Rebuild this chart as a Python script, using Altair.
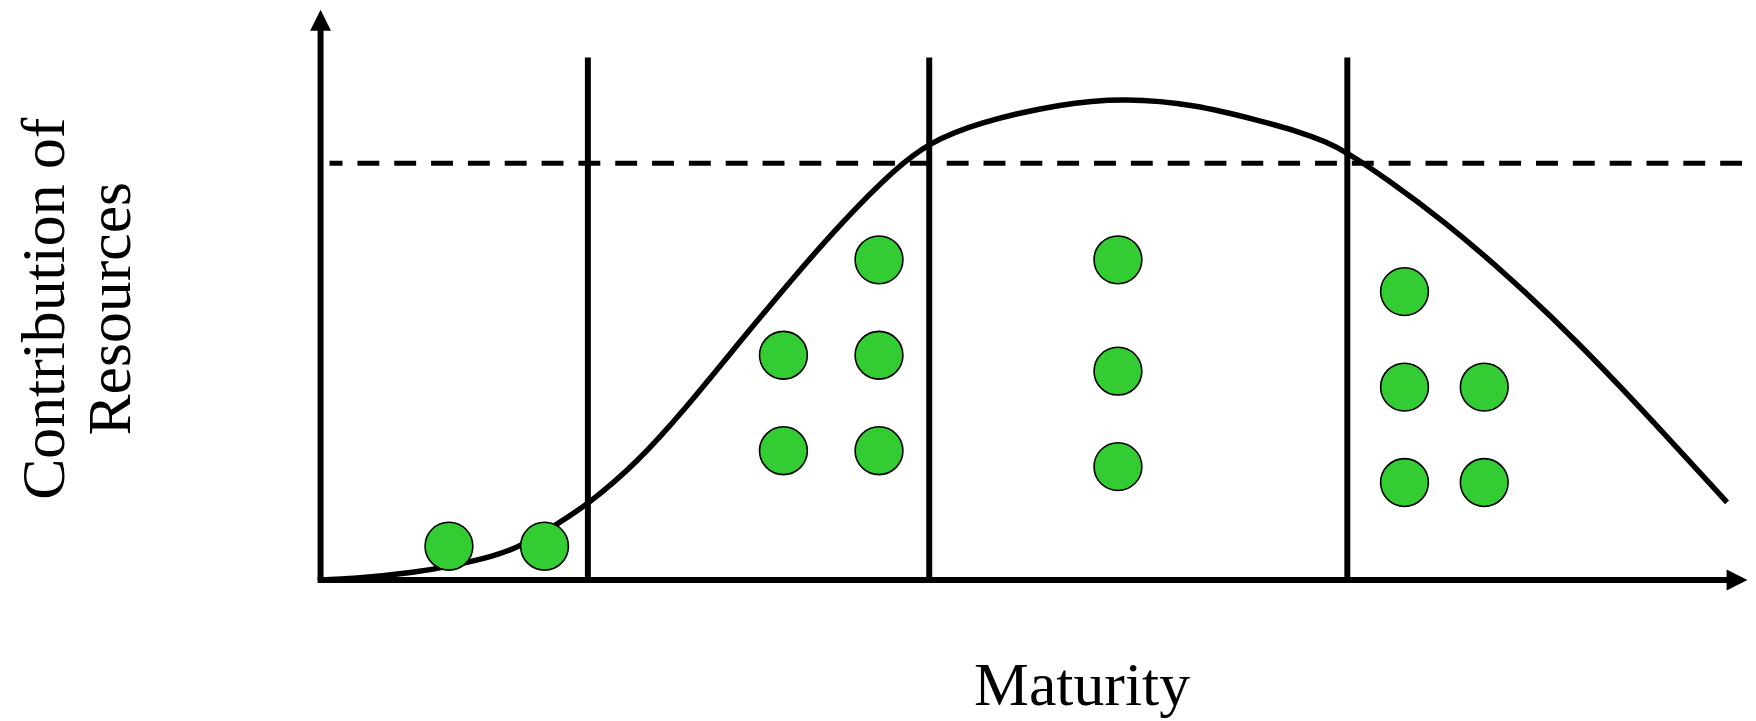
import altair as alt
import pandas as pd

# ---- data (units: Maturity 0-100, Resources 0-100) ----
curve_x = [0.0, 2.16, 6.84, 9.14, 12.21, 14.03, 16.12, 18.77, 22.19, 25.40, 29.66,
           33.15, 36.64, 40.34, 42.64, 45.92, 51.99, 56.39, 61.27, 65.95, 68.25,
           70.55, 72.02, 74.74, 78.72, 83.39, 88.00, 92.67, 98.60]
curve_y = [0.0, 0.19, 1.52, 2.67, 4.57, 6.48, 9.90, 14.48, 22.48, 32.19, 46.48,
           57.90, 68.76, 78.86, 83.62, 87.43, 91.24, 92.19, 91.05, 87.80, 86.10,
           83.81, 81.71, 76.76, 68.76, 57.90, 45.90, 32.57, 14.86]

dot_x = [9.00, 15.70,
         32.45, 39.15, 32.45, 39.15, 39.15,
         55.90, 55.90, 55.90,
         75.99, 75.99, 81.58, 75.99, 81.58]
dot_y = [6.47, 6.47,
         43.01, 43.01, 24.74, 24.74, 61.27,
         61.27, 39.96, 21.69,
         55.19, 36.92, 36.92, 18.65, 18.65]

divider_x = [18.74, 42.67, 71.98]
divider_bottom = [0, 0, 0]
divider_top = [100, 100, 100]

threshold_y = [79.73]
threshold_x_start = [0.63]
threshold_x_end = [100.3]

axis_y_start = [0.0]
axis_y_end = [106.5]
axis_x_end = [98.8]
arrow_up_y = [107.1]
arrow_right_x = [99.3]

x_title = "Maturity"
y_title = ["Contribution of", "Resources"]

# ---- chart ----
FONT = "Liberation Serif"
xs = alt.Scale(domain=[0, 100], nice=False, zero=False)
ys = alt.Scale(domain=[0, 100], nice=False, zero=False)

x_axis = alt.Axis(title=x_title, domain=False, ticks=False, labels=False, grid=False,
                  titleFont=FONT, titleFontSize=62, titleFontWeight="normal",
                  titleColor="black", titleX=764.5, titleY=125,
                  titleAlign="center", titleBaseline="alphabetic")
y_axis = alt.Axis(title=y_title, domain=False, ticks=False, labels=False, grid=False,
                  titleFont=FONT, titleFontSize=62, titleFontWeight="normal",
                  titleColor="black", titleAngle=270, titleX=-258, titleY=252,
                  titleAlign="center", titleBaseline="alphabetic", titleLineHeight=66)


def X(field="x"):
    return alt.X(f"{field}:Q", scale=xs, axis=x_axis)


def Y(field="y"):
    return alt.Y(f"{field}:Q", scale=ys, axis=y_axis)


curve_df = pd.DataFrame({"x": curve_x, "y": curve_y})
dots_df = pd.DataFrame({"x": dot_x, "y": dot_y})
div_df = pd.DataFrame({"x": divider_x, "y": divider_bottom, "y2": divider_top})
thr_df = pd.DataFrame({"x": threshold_x_start, "x2": threshold_x_end, "y": threshold_y})
yax_df = pd.DataFrame({"x": [0.0], "y": axis_y_start, "y2": axis_y_end})
xax_df = pd.DataFrame({"x": [0.0], "x2": axis_x_end, "y": [0.0]})
up_df = pd.DataFrame({"x": [0.0], "y": arrow_up_y})
right_df = pd.DataFrame({"x": arrow_right_x, "y": [0.0]})

dividers = alt.Chart(div_df).mark_rule(color="black", strokeWidth=6).encode(
    x=X(), y=Y(), y2="y2:Q")

threshold = alt.Chart(thr_df).mark_rule(
    color="black", strokeWidth=5, strokeDash=[22, 15], strokeDashOffset=9
).encode(x=X(), x2="x2:Q", y=Y())

yaxis_line = alt.Chart(yax_df).mark_rule(color="black", strokeWidth=6).encode(
    x=X(), y=Y(), y2="y2:Q")
xaxis_line = alt.Chart(xax_df).mark_rule(color="black", strokeWidth=6, strokeCap="square").encode(
    x=X(), x2="x2:Q", y=Y())

arrow_up = alt.Chart(up_df).mark_point(
    shape="M0,-1L-1,1L1,1Z", filled=True, size=440, color="black", opacity=1, strokeWidth=0
).encode(x=X(), y=Y())
arrow_right = alt.Chart(right_df).mark_point(
    shape="M1,0L-1,-1L-1,1Z", filled=True, size=440, color="black", opacity=1, strokeWidth=0
).encode(x=X(), y=Y())

curve = alt.Chart(curve_df).mark_line(
    color="black", strokeWidth=5.5, interpolate="basis"
).encode(x=X(), y=Y(), order=alt.Order("x:Q"))

dots = alt.Chart(dots_df).mark_circle(
    size=2304, color="#33CC33", opacity=1, stroke="black", strokeWidth=1.6
).encode(x=X(), y=Y())

chart = alt.layer(
    dividers, threshold, yaxis_line, xaxis_line, arrow_up, arrow_right, curve, dots
).properties(
    width=1433, height=525,
    autosize=alt.AutoSizeParams(type="none"),
    padding={"left": 314, "top": 48, "right": 1, "bottom": 140},
    background="white",
).configure_view(stroke=None)

chart.save("out.html", embed_options={"renderer": "svg", "actions": False})
